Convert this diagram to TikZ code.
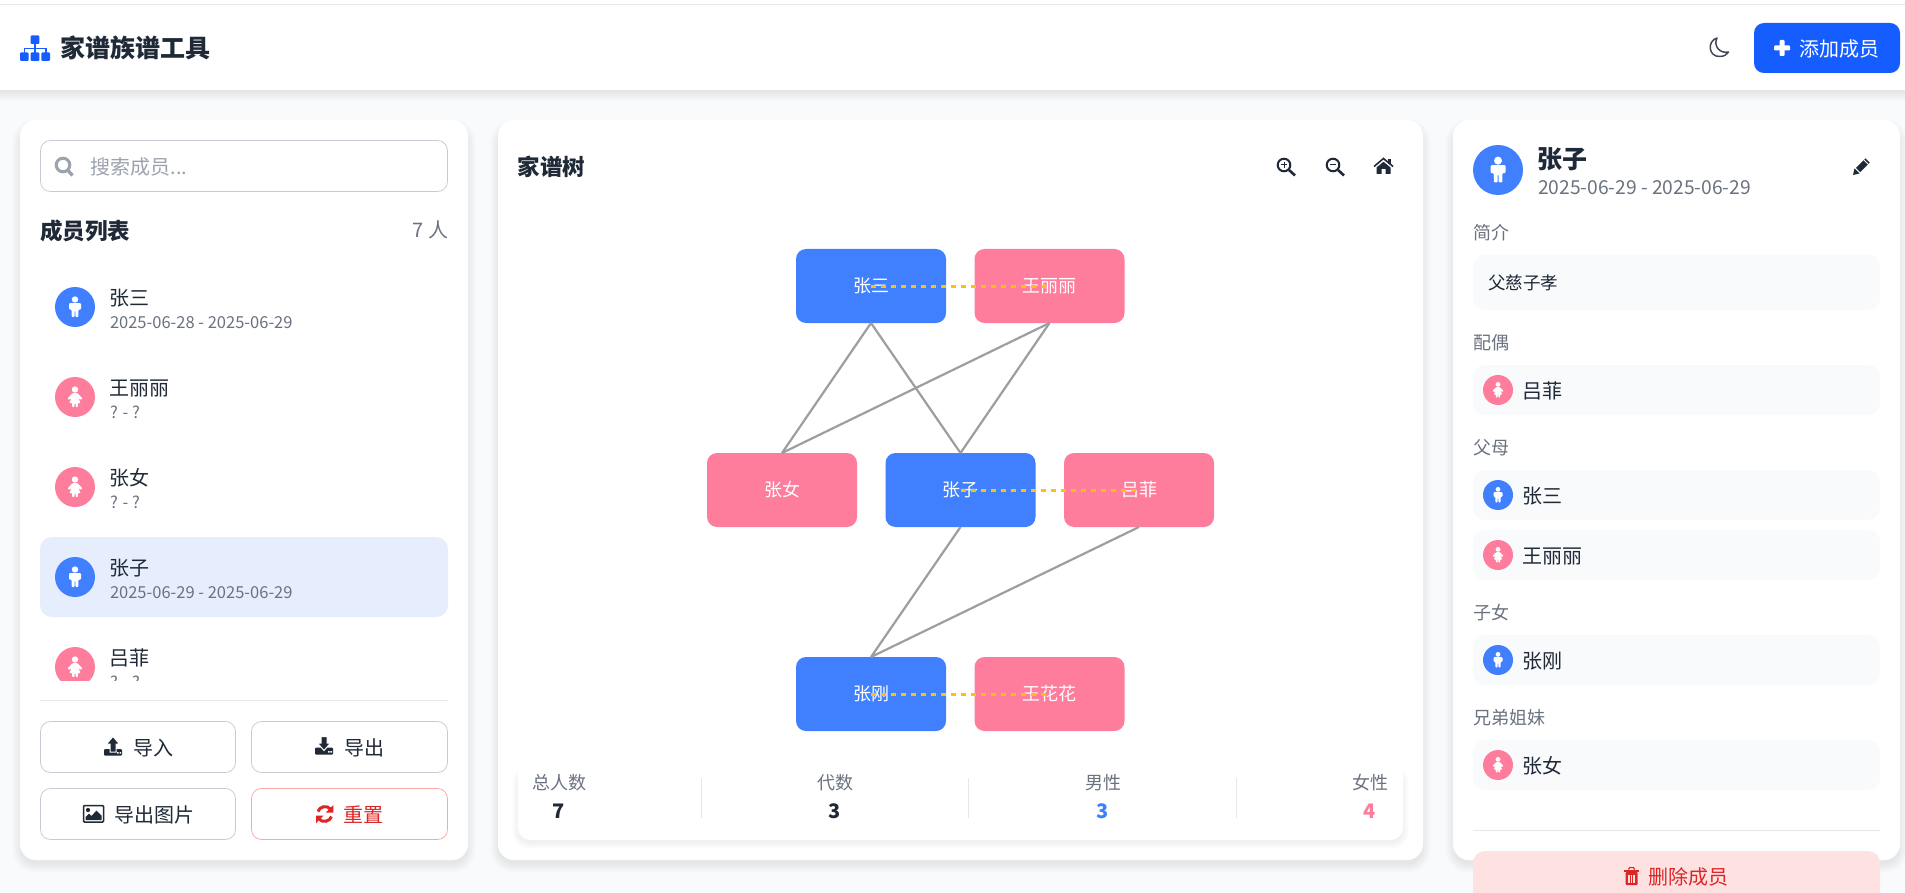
\documentclass[tikz,border=0pt]{standalone}
\usepackage{fontspec}
\setmainfont{Noto Sans CJK SC}
\definecolor{pagebg}{HTML}{F9FAFB}
\definecolor{brand}{HTML}{165DFF}
\definecolor{cmale}{HTML}{4080FF}
\definecolor{cfemale}{HTML}{FF7D9C}
\definecolor{ink}{HTML}{1F2937}
\definecolor{midgray}{HTML}{6B7280}
\definecolor{ph}{HTML}{9CA3AF}
\definecolor{rule}{HTML}{E5E7EB}
\definecolor{bdr}{HTML}{C8CAD4}
\definecolor{dngr}{HTML}{DC2626}
\definecolor{dngrb}{HTML}{FCA5A5}
\definecolor{dngrbg}{HTML}{FEE2E2}
\definecolor{sel}{HTML}{E6EDFD}
\definecolor{linkgray}{HTML}{9E9E9E}
\definecolor{gold}{HTML}{FFC107}
\tikzset{
  txt/.style={font=\fontsize{#1}{#1}\selectfont,text height=0.88*#1pt,text depth=0.12*#1pt,inner sep=0pt,outer sep=0pt},
  txtb/.style={txt=#1,font=\fontsize{#1}{#1}\selectfont\bfseries},
  avatarnode/.style={circle,draw=none,minimum size=#1,inner sep=0pt,outer sep=0pt},
  treebox/.style={rectangle,rounded corners=10pt,minimum width=150pt,minimum height=74pt,inner sep=0pt,outer sep=0pt,txt=18,text=white},
  parentlink/.style={draw=linkgray,line width=2.2pt},
  spouselink/.style={draw=gold,line width=3pt,dash pattern=on 5pt off 5pt},
  card/.style={fill=white,rounded corners=16pt},
  btn/.style={fill=white,draw=bdr,line width=0.75pt,rounded corners=10pt},
  chipbox/.style={fill=pagebg,rounded corners=12pt},
  malefig/.pic={
    \fill[white] (0,-7.5) circle (3.2);
    \fill[white,rounded corners=1pt] (-6,-3.8) -- (6,-3.8) -- (6,2.5) -- (3.4,2.5) -- (3.4,10) -- (0.4,10) -- (0.4,3.5) -- (-0.4,3.5) -- (-0.4,10) -- (-3.4,10) -- (-3.4,2.5) -- (-6,2.5) -- cycle;
  },
  femalefig/.pic={
    \fill[white] (0,-7.5) circle (3.2);
    \fill[white,rounded corners=0.8pt] (-2.6,-3.8) -- (2.6,-3.8) -- (7.4,1.5) -- (5.6,3) -- (3,0.3) -- (5.6,6) -- (2.8,6) -- (2.8,10) -- (0.5,10) -- (0.5,6) -- (-0.5,6) -- (-0.5,10) -- (-2.8,10) -- (-2.8,6) -- (-5.6,6) -- (-3,0.3) -- (-5.6,3) -- (-7.4,1.5) -- cycle;
  }
}
\newcommand{\softshadow}[7]{% x1 y1 x2 y2 r dy spread
  \foreach \sp in {1,...,#7}{
    \fill[black,opacity=0.009,rounded corners={#5+\sp*1pt}]
      ({#1-\sp},{#2-\sp+#6}) rectangle ({#3+\sp},{#4+\sp+#6});
  }}
\newcommand{\avatar}[5]{% name x y r kind
  \node[avatarnode={2*#4 pt},fill=c#5] (#1) at (#2,#3) {};
  \pic[scale=#4/20] at (#1) {#5fig};}
\newcommand{\listitem}[5]{% id y kind name date
  \avatar{#1a}{75}{#2}{20}{#3}
  \node[txt=20,anchor=west,text=ink] (#1n) at (109.5,#2-9) {#4};
  \node[txt=16.5,anchor=west,text=midgray] (#1d) at (110,#2+15) {#5};}
\newcommand{\chip}[4]{% id y kind name
  \fill[chipbox] (1473,#2-25) rectangle (1880,#2+25);
  \avatar{#1a}{1498}{#2}{15}{#3}
  \node[txt=20,anchor=west,text=ink] (#1n) at (1522,#2+1) {#4};}
\begin{document}
\begin{tikzpicture}[x=1pt,y=-1pt]
\useasboundingbox (0,0) rectangle (1905,893);
\clip (0,0) rectangle (1905,893);
\fill[pagebg] (0,0) rectangle (1905,893);
% header
\softshadow{-20}{90}{1925}{90}{0pt}{1}{10}
\fill[white] (0,0) rectangle (1905,90);
\draw[rule,line width=1.2pt] (0,4.5) -- (1905,4.5);
% sitemap icon
\fill[brand,rounded corners=1pt] (30.7,35.5) rectangle (39.3,44);
\foreach \ix in {20,30.7,41.4}{\fill[brand,rounded corners=1pt] (\ix,52.5) rectangle ({\ix+8.6},61);}
\draw[brand,line width=1.6pt] (35,44) -- (35,53) (24.3,53) -- (24.3,48.5) -- (45.7,48.5) -- (45.7,53);
\node[txtb=25,anchor=west,text=ink] (title) at (60,48.5) {家谱族谱工具};
% moon
\draw[ink!85,line width=1.5pt,line join=round] (1717,38) .. controls (1707,41) and (1708,57) .. (1720,56.5) .. controls (1724,56.5) and (1727,54.5) .. (1728.5,52) .. controls (1720,54) and (1713,46) .. (1717,38) -- cycle;
% add button
\softshadow{1756}{26}{1898}{71}{8pt}{2}{3}
\fill[brand,rounded corners=10pt] (1754,23) rectangle (1900,73);
\fill[white,rounded corners=1pt] (1774,45.5) rectangle (1790,50.5);
\fill[white,rounded corners=1pt] (1779.5,40) rectangle (1784.5,56);
\node[txt=20,anchor=west,text=white] (addtxt) at (1799.5,49) {添加成员};
% left card
\softshadow{22}{124}{466}{858}{14pt}{5}{10}
\fill[card] (20,120) rectangle (468,860);
\draw[btn] (40.5,140.5) rectangle (447.5,191.5);
\draw[ph,line width=3pt] (63,165) circle (6.8);
\draw[ph,line width=3.4pt] (68,170.5) -- (72.5,175.5);
\node[txt=20,anchor=west,text=ph] (search) at (90.5,167) {搜索成员...};
\node[txtb=22.5,anchor=west,text=ink] (listhead) at (40,231) {成员列表};
\node[txt=20,anchor=east,text=midgray] (listcount) at (448,230) {7 人};
\fill[sel,rounded corners=12pt] (40,537) rectangle (448,617);
\begin{scope}
\clip (40,260) rectangle (448,680);
\listitem{m1}{307}{male}{张三}{2025-06-28 - 2025-06-29}
\listitem{m2}{397}{female}{王丽丽}{? - ?}
\listitem{m3}{487}{female}{张女}{? - ?}
\listitem{m4}{577}{male}{张子}{2025-06-29 - 2025-06-29}
\listitem{m5}{667}{female}{吕菲}{? - ?}
\end{scope}
\draw[rule,line width=1.2pt] (40,700.5) -- (448,700.5);
\draw[btn] (40.5,721.5) rectangle (235.5,772.5);
\draw[btn] (251.5,721.5) rectangle (447.5,772.5);
\draw[btn] (40.5,788.5) rectangle (235.5,839.5);
\draw[btn,draw=dngrb] (251.5,788.5) rectangle (447.5,839.5);
% upload
\fill[ink,rounded corners=1pt] (104,749) rectangle (122,755.5);
\fill[ink,draw=white,line width=1pt] (113,736.5) -- (119.5,744) -- (116,744) -- (116,752) -- (110,752) -- (110,744) -- (106.5,744) -- cycle;
\fill[white] (117,752) rectangle (118.6,753.6) (119.6,752) rectangle (121.2,753.6);
\node[txt=20,anchor=west,text=ink] (imp) at (133,748) {导入};
% download
\fill[ink,rounded corners=1pt] (315,747.5) rectangle (333,754.5);
\fill[ink,draw=white,line width=1pt] (324,750.5) -- (317.5,743) -- (321,743) -- (321,736.5) -- (327,736.5) -- (327,743) -- (330.5,743) -- cycle;
\fill[white] (328,751) rectangle (329.6,752.6) (330.4,751) rectangle (332,752.6);
\node[txt=20,anchor=west,text=ink] (expt) at (344,748) {导出};
% image icon
\draw[ink,line width=1.5pt,rounded corners=1pt] (83.5,805.5) rectangle (103.5,822);
\fill[ink] (88,810) circle (2.1);
\fill[ink] (85.5,820) -- (85.5,817) -- (89,813.5) -- (91.5,816) -- (96.5,810.5) -- (101.5,815.5) -- (101.5,820) -- cycle;
\node[txt=20,anchor=west,text=ink] (expimg) at (114,815) {导出图片};
% sync icon
\draw[dngr,line width=3pt] (318,811.5) .. controls (319.5,806.5) and (327,804.5) .. (331,809.5);
\fill[dngr] (333.3,805) -- (333.3,812.5) -- (326,812.5) -- cycle;
\draw[dngr,line width=3pt] (331.5,816.5) .. controls (330,821.5) and (322.5,823.5) .. (318.5,818.5);
\fill[dngr] (316,823.3) -- (316,815.5) -- (323.5,815.5) -- cycle;
\node[txt=20,anchor=west,text=dngr] (reset) at (343,815) {重置};
% center card
\softshadow{500}{124}{1421}{858}{14pt}{5}{10}
\fill[card] (498,120) rectangle (1423,860);
\node[txtb=22.5,anchor=west,text=ink] (treehead) at (517.5,166.5) {家谱树};
% zoom icons
\draw[ink,line width=2pt] (1284,165) circle (6.3);
\draw[ink,line width=2.6pt] (1289,170) -- (1295,175.5);
\draw[ink,line width=1pt] (1280.8,165) -- (1287.2,165) (1284,161.8) -- (1284,168.2);
\draw[ink,line width=2pt] (1333,165) circle (6.3);
\draw[ink,line width=2.6pt] (1338,170) -- (1344,175.5);
\draw[ink,line width=1pt] (1329.8,165) -- (1336.2,165);
% home icon
\draw[ink,line width=1.6pt] (1374,166.5) -- (1383.5,158.5) -- (1393,166.5);
\fill[ink] (1388,159) rectangle (1390.5,164);
\fill[ink] (1376.5,167.5) -- (1383.5,161.8) -- (1390.5,167.5) -- (1390.5,174) -- (1385.5,174) -- (1385.5,169) -- (1381.5,169) -- (1381.5,174) -- (1376.5,174) -- cycle;
% family tree
\node[treebox,fill=cmale] (zs) at (871,286) {张三};
\node[treebox,fill=cfemale] (wll) at (1049.5,286) {王丽丽};
\node[treebox,fill=cfemale] (zn) at (782,490) {张女};
\node[treebox,fill=cmale] (zz) at (960.5,490) {张子};
\node[treebox,fill=cfemale] (lf) at (1139,490) {吕菲};
\node[treebox,fill=cmale] (zg) at (871,694) {张刚};
\node[treebox,fill=cfemale] (whh) at (1049.5,694) {王花花};
\draw[parentlink] (zs.south) -- (zn.north);
\draw[parentlink] (zs.south) -- (zz.north);
\draw[parentlink] (wll.south) -- (zn.north);
\draw[parentlink] (wll.south) -- (zz.north);
\draw[parentlink] (zz.south) -- (zg.north);
\draw[parentlink] (lf.south) -- (zg.north);
\draw[spouselink] (zs.center) -- (wll.center);
\draw[spouselink] (zz.center) -- (lf.center);
\draw[spouselink] (zg.center) -- (whh.center);
% stats bar
\softshadow{520}{770}{1401}{838}{10pt}{3}{8}
\fill[white,rounded corners=12pt] (518,757) rectangle (1403,840);
\foreach \dx in {701.5,968.8,1236.7}{\draw[rule,line width=1pt] (\dx,778) -- (\dx,818);}
\node[txt=18,text=midgray] (s1l) at (559,783) {总人数};
\node[txtb=20,text=ink] (s1v) at (559,811) {7};
\node[txt=18,text=midgray] (s2l) at (835,783) {代数};
\node[txtb=20,text=ink] (s2v) at (835,811) {3};
\node[txt=18,text=midgray] (s3l) at (1103,783) {男性};
\node[txtb=20,text=cmale] (s3v) at (1103,811) {3};
\node[txt=18,text=midgray] (s4l) at (1370,783) {女性};
\node[txtb=20,text=cfemale] (s4v) at (1370,811) {4};
% right card
\softshadow{1455}{124}{1898}{858}{14pt}{5}{10}
\fill[card] (1453,120) rectangle (1900,860);
\avatar{dav}{1498}{170}{25}{male}
\node[txtb=25,anchor=west,text=ink] (dname) at (1537,159) {张子};
\node[txt=19.25,anchor=west,text=midgray] (ddate) at (1538,187.5) {2025-06-29 - 2025-06-29};
% pencil
\draw[ink,line width=6pt] (1858,170) -- (1867.5,160.5);
\draw[white,line width=1pt] (1863.2,159.2) -- (1869,165);
\fill[ink] (1853,175) -- (1854.5,168.5) -- (1859.5,173.5) -- cycle;
\node[txt=18,anchor=west,text=midgray] (lb1) at (1473,233) {简介};
\fill[chipbox] (1473,255) rectangle (1880,310);
\node[txt=17.5,anchor=west,text=ink] (bio) at (1488,283) {父慈子孝};
\node[txt=18,anchor=west,text=midgray] (lb2) at (1473,343) {配偶};
\chip{c1}{390}{female}{吕菲}
\node[txt=18,anchor=west,text=midgray] (lb3) at (1473,448) {父母};
\chip{c2}{495}{male}{张三}
\chip{c3}{555}{female}{王丽丽}
\node[txt=18,anchor=west,text=midgray] (lb4) at (1473,613) {子女};
\chip{c4}{660}{male}{张刚}
\node[txt=18,anchor=west,text=midgray] (lb5) at (1473,718) {兄弟姐妹};
\chip{c5}{765}{female}{张女}
\draw[rule,line width=1.2pt] (1473,830.5) -- (1880,830.5);
\fill[dngrbg,rounded corners=12pt] (1473,851) rectangle (1880,915);
% trash
\fill[dngr] (1624,869.5) rectangle (1639,872);
\draw[dngr,line width=1.2pt] (1628.5,869.5) -- (1629.5,867.6) -- (1633.5,867.6) -- (1634.5,869.5);
\fill[dngr,rounded corners=1pt] (1625.5,872) rectangle (1637.5,885);
\draw[dngrbg,line width=1.1pt] (1629,874.5) -- (1629,882.5) (1631.5,874.5) -- (1631.5,882.5) (1634,874.5) -- (1634,882.5);
\node[txt=20,anchor=west,text=dngr] (deltxt) at (1648.5,877) {删除成员};
\end{tikzpicture}
\end{document}
